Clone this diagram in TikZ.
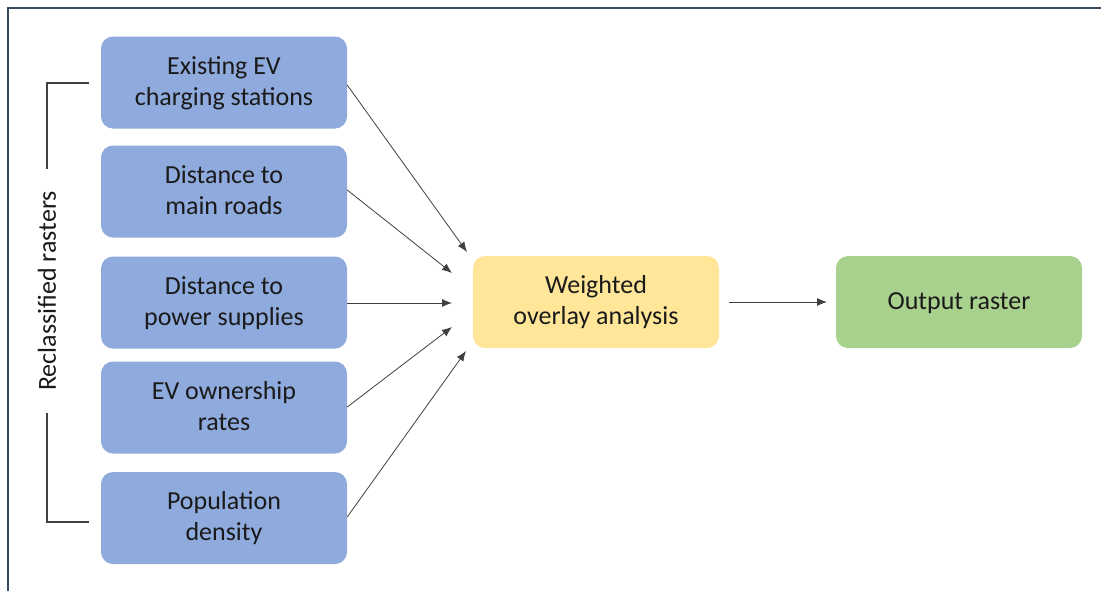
\documentclass[tikz,border=0pt]{standalone}
\usepackage{fontspec}
\setmainfont{Carlito}
\usetikzlibrary{arrows.meta}
\definecolor{frame}{HTML}{3A4A5E}
\definecolor{bluebox}{HTML}{8FAADC}
\definecolor{yellowbox}{HTML}{FFE699}
\definecolor{greenbox}{HTML}{A9D18E}
\definecolor{txt}{HTML}{1A1A1A}
\newcommand\tstrut{\rule{0pt}{20pt}}
\newcommand\bstrut{\rule[-6pt]{0pt}{6pt}}
\tikzset{
  box/.style={rounded corners=12pt, minimum width=246pt, minimum height=92pt, inner sep=0pt,
    align=center, text=txt, font=\fontsize{26}{31}\selectfont},
  inbox/.style={box, fill=bluebox},
  conn/.style={draw=black!75, line width=0.8pt, -{Latex[length=10pt,width=8pt]}},
  brace/.style={draw=black!75, line width=1.3pt},
}
\begin{document}
\begin{tikzpicture}[x=1pt,y=-1pt]
\useasboundingbox (0,0) rectangle (1101,590);
\draw[frame, line width=2.2pt] (8,591) -- (8,8) -- (1102,8);
\node[inbox] (b1) at (224,82.5) {\tstrut Existing EV\\charging stations\bstrut};
\node[inbox] (b2) at (224,191.5) {\tstrut Distance to\\main roads\bstrut};
\node[inbox] (b3) at (224,302.5) {\tstrut Distance to\\power supplies\bstrut};
\node[inbox] (b4) at (224,407.5) {\tstrut EV ownership\\rates\bstrut};
\node[inbox] (b5) at (224,518) {\tstrut Population\\density\bstrut};
\node[box, fill=yellowbox] (w) at (596,302) {\tstrut Weighted\\overlay analysis\bstrut};
\node[box, fill=greenbox] (o) at (959,302) {\tstrut Output raster\bstrut};
\coordinate (t1) at (467,252);
\coordinate (t2) at (452,273);
\coordinate (t3) at (452,303);
\coordinate (t4) at (452,327);
\coordinate (t5) at (466,351);
\draw[conn] (b1.east |- 0,85) -- (t1);
\draw[conn] (b2.east |- 0,190) -- (t2);
\draw[conn] (b3.east |- 0,303) -- (t3);
\draw[conn] (b4.east |- 0,407) -- (t4);
\draw[conn] (b5.east |- 0,517) -- (t5);
\coordinate (wa) at (729,302);
\coordinate (oa) at (827,302);
\draw[conn] (wa) -- (oa);
\node[rotate=90, text=txt, font=\fontsize{26}{30}\selectfont, inner xsep=22pt, inner ysep=0pt] (lab) at (47,291) {Reclassified rasters};
\coordinate (bt) at (89,83);
\coordinate (bb) at (89,522);
\draw[brace] (bt) -- (47,83) -- (lab.east);
\draw[brace] (bb) -- (47,522) -- (lab.west);
\end{tikzpicture}
\end{document}
